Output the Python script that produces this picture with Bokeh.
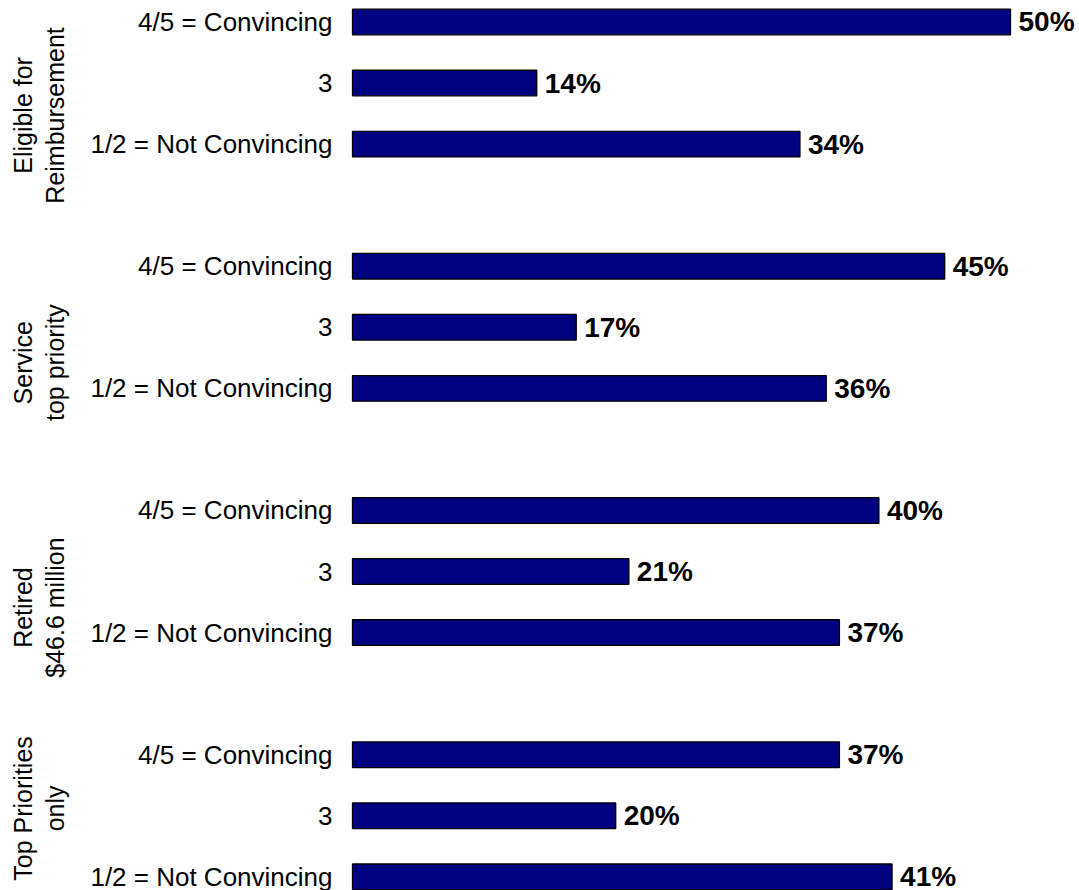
import math
from bokeh.plotting import figure
from bokeh.models import ColumnDataSource, Range1d, Label
from bokeh.core.properties import value
from bokeh.embed import file_html
from bokeh.resources import INLINE

# ---- data ----
groups_line1 = ["Eligible for", "Service", "Retired", "Top Priorities"]
groups_line2 = ["Reimbursement", "top priority", "$46.6 million", "only"]
categories = ["4/5 = Convincing", "3", "1/2 = Not Convincing"]
eligible = [50, 14, 34]
service = [45, 17, 36]
retired = [40, 21, 37]
top_priorities = [37, 20, 41]
series = [eligible, service, retired, top_priorities]

# ---- layout constants ----
SLOTS_PER_GROUP = 4          # 3 bars + 1 empty slot
label_shift = [0.53, 0.58, 0.59, -0.12]   # group-label centre shift (in slots)
FONT = "Liberation Sans"

ys, vals, cats, txt = [], [], [], []
for g, vs in enumerate(series):
    for k, v in enumerate(vs):
        ys.append(g * SLOTS_PER_GROUP + k)
        vals.append(v)
        cats.append(categories[k])
        txt.append(f"{v}%")

src = ColumnDataSource(dict(y=ys, v=vals, cat=cats, txt=txt, zero=[0] * len(ys)))

p = figure(width=1079, height=890, output_backend="svg", toolbar_location=None,
           x_range=Range1d(-26.748, 55.243), y_range=Range1d(14.224, -0.352),
           x_axis_type=None, y_axis_type=None, min_border=0,
           outline_line_color=None, background_fill_color="white")
p.xgrid.visible = False
p.ygrid.visible = False

p.hbar(y="y", left="zero", right="v", height=0.42, source=src,
       fill_color="#000080", line_color="black", line_width=1.3)

p.text(x="zero", y="y", text="cat", source=src, x_offset=-20,
       text_align="right", text_baseline="middle",
       text_font=value(FONT), text_font_size="26px", text_color="black")

p.text(x="v", y="y", text="txt", source=src, x_offset=8,
       text_align="left", text_baseline="middle",
       text_font=value(FONT), text_font_size="28px", text_font_style="bold",
       text_color="black")

for g in range(len(series)):
    yc = g * SLOTS_PER_GROUP + 1 + label_shift[g]
    for xs, t in ((22, groups_line1[g]), (54, groups_line2[g])):
        p.add_layout(Label(x=xs, y=yc, x_units="screen", y_units="data",
                           text=t, angle=math.pi / 2, text_align="center",
                           text_baseline="alphabetic", text_font=FONT,
                           text_font_size="25px", text_color="black"))

open("out.html", "w").write(file_html(p, INLINE))
